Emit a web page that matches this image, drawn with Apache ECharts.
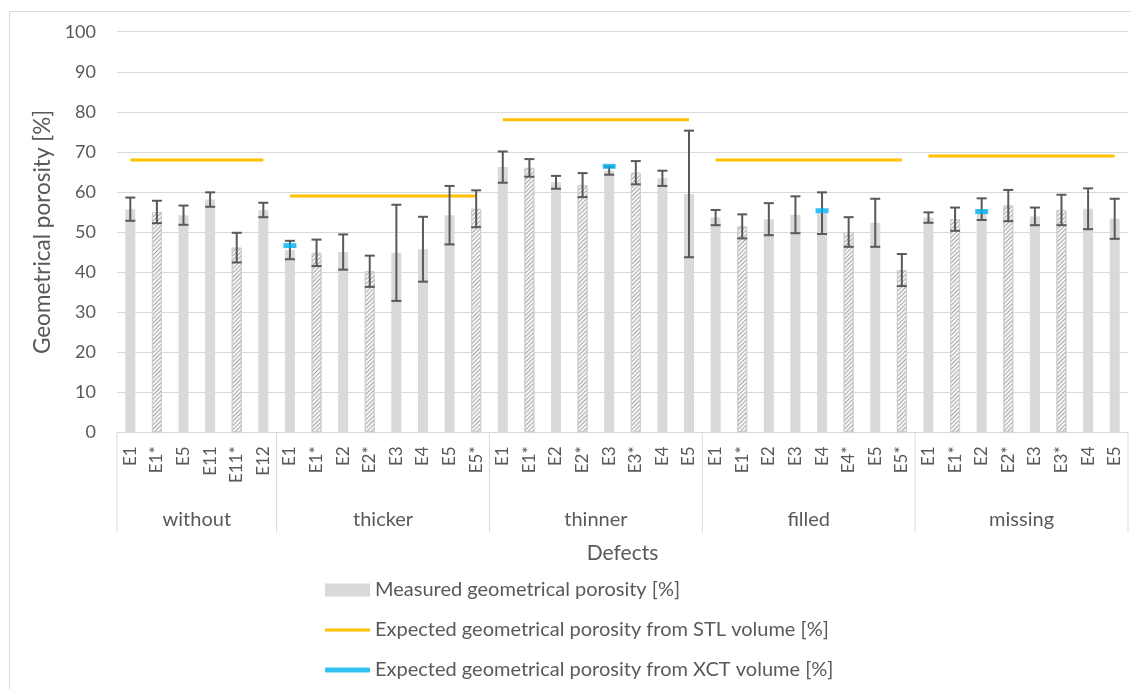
<!DOCTYPE html>
<html lang="en">
<head>
<meta charset="UTF-8">
<title>Geometrical porosity</title>
<style>
  html, body { margin: 0; padding: 0; background: #fff; }
  #chart { width: 1131px; height: 689px; }
</style>
</head>
<body>
<div id="chart"></div>
<script src="https://cdn.jsdelivr.net/npm/echarts@6/dist/echarts.min.js"></script>
<script>
// defect groups and the specimens in each
var groupNames = ['without', 'thicker', 'thinner', 'filled', 'missing'];
var groupSizes = [6, 8, 8, 8, 8];
var categories = [
    'E1', 'E1*', 'E5', 'E11', 'E11*', 'E12',
    'E1', 'E1*', 'E2', 'E2*', 'E3', 'E4', 'E5', 'E5*',
    'E1', 'E1*', 'E2', 'E2*', 'E3', 'E3*', 'E4', 'E5',
    'E1', 'E1*', 'E2', 'E3', 'E4', 'E4*', 'E5', 'E5*',
    'E1', 'E1*', 'E2', 'E2*', 'E3', 'E3*', 'E4', 'E5'
];
// measured porosity [%]
var measured = [
    55.7, 55.0, 54.2, 58.1, 46.1, 55.5,
    45.5, 44.8, 45.0, 40.2, 44.8, 45.7, 54.2, 55.8,
    66.2, 66.0, 62.4, 61.7, 65.3, 64.8, 63.4, 59.5,
    53.6, 51.4, 53.2, 54.3, 54.7, 50.0, 52.3, 40.5,
    53.6, 53.2, 55.7, 56.6, 53.9, 55.5, 55.8, 53.3
];
// error bar half width
var stdDev = [
    2.9, 2.8, 2.4, 1.8, 3.7, 1.8,
    2.3, 3.3, 4.4, 3.9, 12.0, 8.1, 7.3, 4.6,
    3.9, 2.2, 1.6, 3.0, 1.0, 2.9, 1.9, 15.8,
    1.9, 3.0, 4.0, 4.6, 5.2, 3.7, 6.0, 4.0,
    1.3, 2.9, 2.7, 3.9, 2.2, 3.8, 5.1, 5.0
];
// expected porosity from STL volume, one per group
var stlExpected = [68, 59, 78, 68, 69];
// expected porosity from XCT volume (only a few specimens)
var xctExpected = [
    null, null, null, null, null, null,
    46.6, null, null, null, null, null, null, null,
    null, null, null, null, 66.4, null, null, null,
    null, null, null, null, 55.3, null, null, null,
    null, null, 55.1, null, null, null, null, null
];

var FONT = 'Lato, "Open Sans", sans-serif';
var TXT = '#595959';
var NAME_BAR = 'Measured geometrical porosity [%]';
var NAME_STL = 'Expected geometrical porosity from STL volume [%]';
var NAME_XCT = 'Expected geometrical porosity from XCT volume [%]';

// start index of each group
var groupStart = [];
var acc = 0;
for (var g = 0; g < groupSizes.length; g++) {
    groupStart.push(acc);
    acc += groupSizes[g];
}

var barData = measured.map(function (v, i) {
    if (categories[i].indexOf('*') >= 0) {
        return {
            value: v,
            itemStyle: {
                color: '#f7f7f7',
                borderColor: '#cfcfcf',
                borderWidth: 1,
                decal: {
                    symbol: 'rect',
                    symbolSize: 1,
                    color: '#a8a8a8',
                    dashArrayX: [1, 0],
                    dashArrayY: [1, 2],
                    rotation: -Math.PI / 4
                }
            }
        };
    }
    return v;
});

var errData = measured.map(function (v, i) { return [i, v, stdDev[i]]; });
var xctData = xctExpected.map(function (v) { return v == null ? '-' : v; });

var series = [
    {
        name: NAME_BAR,
        type: 'bar',
        barWidth: 10,
        itemStyle: { color: '#d9d9d9' },
        data: barData,
        z: 2
    },
    {
        name: 'err',
        type: 'custom',
        data: errData,
        encode: { x: 0, y: 1 },
        z: 4,
        silent: true,
        renderItem: function (params, api) {
            var x = api.value(0), v = api.value(1), e = api.value(2);
            var top = api.coord([x, v + e]);
            var bot = api.coord([x, v - e]);
            var c = 5;
            var st = { stroke: '#595959', lineWidth: 2 };
            return {
                type: 'group',
                children: [
                    { type: 'line', shape: { x1: top[0], y1: top[1], x2: bot[0], y2: bot[1] }, style: st },
                    { type: 'line', shape: { x1: top[0] - c, y1: top[1], x2: top[0] + c, y2: top[1] }, style: st },
                    { type: 'line', shape: { x1: bot[0] - c, y1: bot[1], x2: bot[0] + c, y2: bot[1] }, style: st }
                ]
            };
        }
    },
    {
        name: 'groups',
        type: 'custom',
        data: groupNames.map(function (n, k) {
            return [groupStart[k], 0, groupStart[k] + groupSizes[k] - 1, k];
        }),
        encode: { x: 0, y: 1 },
        clip: false,
        silent: true,
        renderItem: function (params, api) {
            var s = api.value(0), e = api.value(2), k = api.value(3);
            var bw = api.size([1, 0])[0];
            var p0 = api.coord([s, 0]);
            var p1 = api.coord([e, 0]);
            var xl = p0[0] - bw / 2, xr = p1[0] + bw / 2, y0 = p0[1];
            var st = { stroke: '#d9d9d9', lineWidth: 1 };
            var kids = [
                { type: 'line', shape: { x1: xl, y1: y0, x2: xl, y2: y0 + 100 }, style: st },
                {
                    type: 'text', x: (xl + xr) / 2, y: y0 + 87,
                    style: {
                        text: groupNames[k], fill: TXT, fontSize: 20, fontFamily: FONT,
                        align: 'center', verticalAlign: 'middle'
                    }
                }
            ];
            if (k === groupNames.length - 1) {
                kids.push({ type: 'line', shape: { x1: xr, y1: y0, x2: xr, y2: y0 + 100 }, style: st });
            }
            return { type: 'group', children: kids };
        }
    }
];

// one orange segment per group, same legend entry
for (var k = 0; k < groupNames.length; k++) {
    var d = categories.map(function () { return '-'; });
    for (var j = 0; j < groupSizes[k]; j++) d[groupStart[k] + j] = stlExpected[k];
    series.push({
        name: NAME_STL,
        type: 'line',
        data: d,
        symbol: 'none',
        lineStyle: { color: '#ffc000', width: 3 },
        itemStyle: { color: '#ffc000' },
        z: 3
    });
}

series.push({
    name: NAME_XCT,
    type: 'scatter',
    data: xctData,
    symbol: 'rect',
    symbolSize: [13, 5],
    itemStyle: { color: '#00b0f0' },
    z: 5
});

var legendBase = {
    left: 320,
    itemWidth: 45,
    textStyle: { color: TXT, fontSize: 20, fontFamily: FONT },
    selectedMode: false
};

var chart = echarts.init(document.getElementById('chart'));
chart.setOption({
    animation: false,
    backgroundColor: '#fff',
    grid: { left: 117, right: 3, top: 31.7, height: 400.6 },
    graphic: [{
        type: 'rect',
        shape: { x: 9.5, y: 11.5, width: 1140, height: 700 },
        style: { fill: 'none', stroke: '#d9d9d9', lineWidth: 1 },
        silent: true
    }],
    legend: [
        Object.assign({}, legendBase, { top: 575, itemHeight: 13, data: [{ name: NAME_BAR, icon: 'rect', itemStyle: { color: '#d9d9d9' } }] }),
        Object.assign({}, legendBase, { top: 615, itemHeight: 3, data: [{ name: NAME_STL, icon: 'rect', itemStyle: { color: '#ffc000' } }] }),
        Object.assign({}, legendBase, { top: 655, itemHeight: 5, data: [{ name: NAME_XCT, icon: 'roundRect', itemStyle: { color: '#00b0f0' } }] })
    ],
    xAxis: {
        type: 'category',
        data: categories,
        name: 'Defects',
        nameLocation: 'middle',
        nameGap: 110,
        nameTextStyle: { color: TXT, fontSize: 21, fontFamily: FONT },
        axisLine: { lineStyle: { color: '#d9d9d9' } },
        axisTick: { show: false },
        axisLabel: {
            interval: 0,
            rotate: 90,
            margin: 14,
            color: TXT,
            fontSize: 17,
            fontFamily: FONT
        }
    },
    yAxis: {
        type: 'value',
        min: 0,
        max: 100,
        interval: 10,
        name: 'Geometrical porosity [%]',
        nameLocation: 'middle',
        nameGap: 63,
        nameTextStyle: { color: TXT, fontSize: 22.5, fontFamily: FONT },
        axisLine: { show: false },
        axisTick: { show: false },
        axisLabel: { color: TXT, fontSize: 18, fontFamily: FONT, margin: 21 },
        splitLine: { lineStyle: { color: '#d9d9d9', width: 1 } }
    },
    series: series
});
</script>
</body>
</html>
